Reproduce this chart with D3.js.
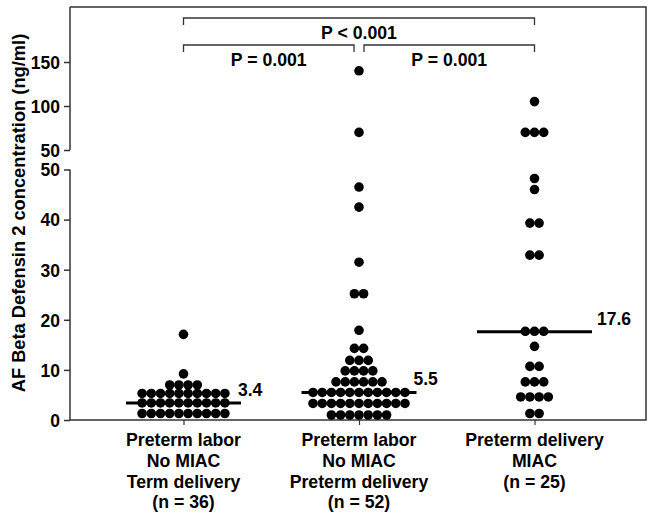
<!DOCTYPE html>
<html><head><meta charset="utf-8">
<script src="https://cdn.jsdelivr.net/npm/d3@7"></script>
<style>body{margin:0;background:#fff}svg{display:block}text{font-family:"Liberation Sans",Arial,sans-serif;font-weight:bold;fill:#000}</style>
</head><body>
<script>
// ---- data ----
const categories = ["g1","g2","g3"];
const categoryLabels = [
  ["Preterm labor","No MIAC","Term delivery","(n = 36)"],
  ["Preterm labor","No MIAC","Preterm delivery","(n = 52)"],
  ["Preterm delivery","MIAC","(n = 25)"]
];
const group1 = [17.1, 9.2, 7.0,7.0,7.0,7.0,
  5.3,5.3,5.3,5.3,5.3,5.3,5.3,5.3,5.3,5.3,
  3.4,3.4,3.4,3.4,3.4,3.4,3.4,3.4,3.4,3.4,
  1.3,1.3,1.3,1.3,1.3,1.3,1.3,1.3,1.3,1.3];
const group2 = [140, 70, 46.5, 42.5, 31.5, 25.2,25.2, 17.9, 14.3,14.3, 11.9,11.9,11.9,
  9.8,9.8,9.8,9.8, 7.6,7.6,7.6,7.6,7.6,7.6,
  5.5,5.5,5.5,5.5,5.5,5.5,5.5,5.5,5.5,5.5,5.5,
  3.3,3.3,3.3,3.3,3.3,3.3,3.3,3.3,3.3,3.3,3.3,
  1.0,1.0,1.0,1.0,1.0,1.0,1.0];
const group3 = [105, 70,70,70, 48.2, 46.0, 39.3,39.3, 32.9,32.9, 17.7,17.7,17.7, 14.7,
  10.7,10.7, 7.6,7.6,7.6, 4.6,4.6,4.6,4.6, 1.3,1.3];
const groups = [group1, group2, group3];
const medians = [3.4, 5.5, 17.6];
const lowerTicks = [0,10,20,30,40,50];
const upperTicks = [50,100,150];
const comparisons = [
  {from:0, to:2, label:"P < 0.001", level:0},
  {from:0, to:1, label:"P = 0.001", level:1},
  {from:1, to:2, label:"P = 0.001", level:1}
];
const yTitle = "AF Beta Defensin 2 concentration (ng/ml)";

// ---- drawing ----
const W = 654, H = 523;
const pL = 70, pR = 646, pT = 7, pB = 420;
const svg = d3.select("body").append("svg").attr("width", W).attr("height", H);

const x = d3.scalePoint().domain(categories).range([183.5, 534.5]);
const yLow = d3.scaleLinear().domain([0, 50]).range([pB, 169.5]);
const yHigh = d3.scaleLinear().domain([50, 212.5]).range([150, pT]);
const yv = v => v > 50 ? yHigh(v) : yLow(v);

// frame (top, right, bottom)
svg.append("path").attr("d", `M${pL},${pT}H${pR}V${pB}H${pL}`)
  .attr("fill","none").attr("stroke","#333").attr("stroke-width",1.5);

// axes
const axLow = svg.append("g").attr("transform", `translate(${pL},0)`)
  .call(d3.axisLeft(yLow).tickValues(lowerTicks).tickSize(6).tickPadding(4));
const axHigh = svg.append("g").attr("transform", `translate(${pL},0)`)
  .call(d3.axisLeft(yHigh).tickValues(upperTicks).tickSize(6).tickPadding(4));
[axLow, axHigh].forEach(a => {
  a.select(".domain").remove();
  a.selectAll("line").attr("stroke","#333").attr("stroke-width",1.5);
  a.selectAll("text").style("font-size","17.5px").attr("fill","#000").attr("dy","0.36em");
});
svg.append("line").attr("x1",pL).attr("x2",pL).attr("y1",yLow(0)).attr("y2",yLow(50))
  .attr("stroke","#333").attr("stroke-width",1.5);
svg.append("line").attr("x1",pL).attr("x2",pL).attr("y1",yHigh(50)).attr("y2",pT)
  .attr("stroke","#333").attr("stroke-width",1.5);

const axX = svg.append("g").attr("transform", `translate(0,${pB})`)
  .call(d3.axisBottom(x).tickSize(5).tickFormat(""));
axX.select(".domain").remove();
axX.selectAll("line").attr("stroke","#333").attr("stroke-width",1.2);

// category labels
categories.forEach((c, i) => {
  const t = svg.append("text").attr("text-anchor","middle").style("font-size","17.7px");
  categoryLabels[i].forEach((s, j) => {
    t.append("tspan").attr("x", x(c)).attr("y", 446 + j * 20.8).text(s);
  });
});

// y title
svg.append("text").attr("transform", `translate(25,${213}) rotate(-90)`)
  .attr("text-anchor","middle").style("font-size","18.3px").text(yTitle);

// dots
const r = 4.8, dx = 9.2;
groups.forEach((g, i) => {
  const counts = d3.rollup(g, v => v.length, d => d);
  const pts = [];
  for (const [val, n] of counts) {
    for (let k = 0; k < n; k++) pts.push({val, off: (k - (n - 1) / 2) * dx});
  }
  svg.append("g").selectAll("circle").data(pts).join("circle")
    .attr("cx", d => x(categories[i]) + d.off)
    .attr("cy", d => yv(d.val)).attr("r", r).attr("fill","#000");
});

// medians
const half = 57.5;
medians.forEach((m, i) => {
  const cx = x(categories[i]);
  svg.append("line").attr("x1", cx - half).attr("x2", cx + half)
    .attr("y1", yLow(m)).attr("y2", yLow(m)).attr("stroke","#000").attr("stroke-width",3);
  svg.append("text").attr("x", cx + half + (i === 2 ? 5 : -3)).attr("y", yLow(m) - 7)
    .style("font-size","17.5px").text(m.toFixed(1));
});

// brackets
const levelY = [18, 45];
comparisons.forEach(cmp => {
  let x1 = x(categories[cmp.from]), x2 = x(categories[cmp.to]);
  if (cmp.level === 1) {
    if (cmp.to === 1) x2 -= 5; else x1 += 5;
  }
  const yb = levelY[cmp.level];
  svg.append("path").attr("d", `M${x1},${yb + 7}V${yb}H${x2}V${yb + 7}`)
    .attr("fill","none").attr("stroke","#333").attr("stroke-width",1.3);
  svg.append("text").attr("x", (x1 + x2) / 2).attr("y", yb + 21)
    .attr("text-anchor","middle").style("font-size","17.7px").text(cmp.label);
});
</script>
</body></html>
